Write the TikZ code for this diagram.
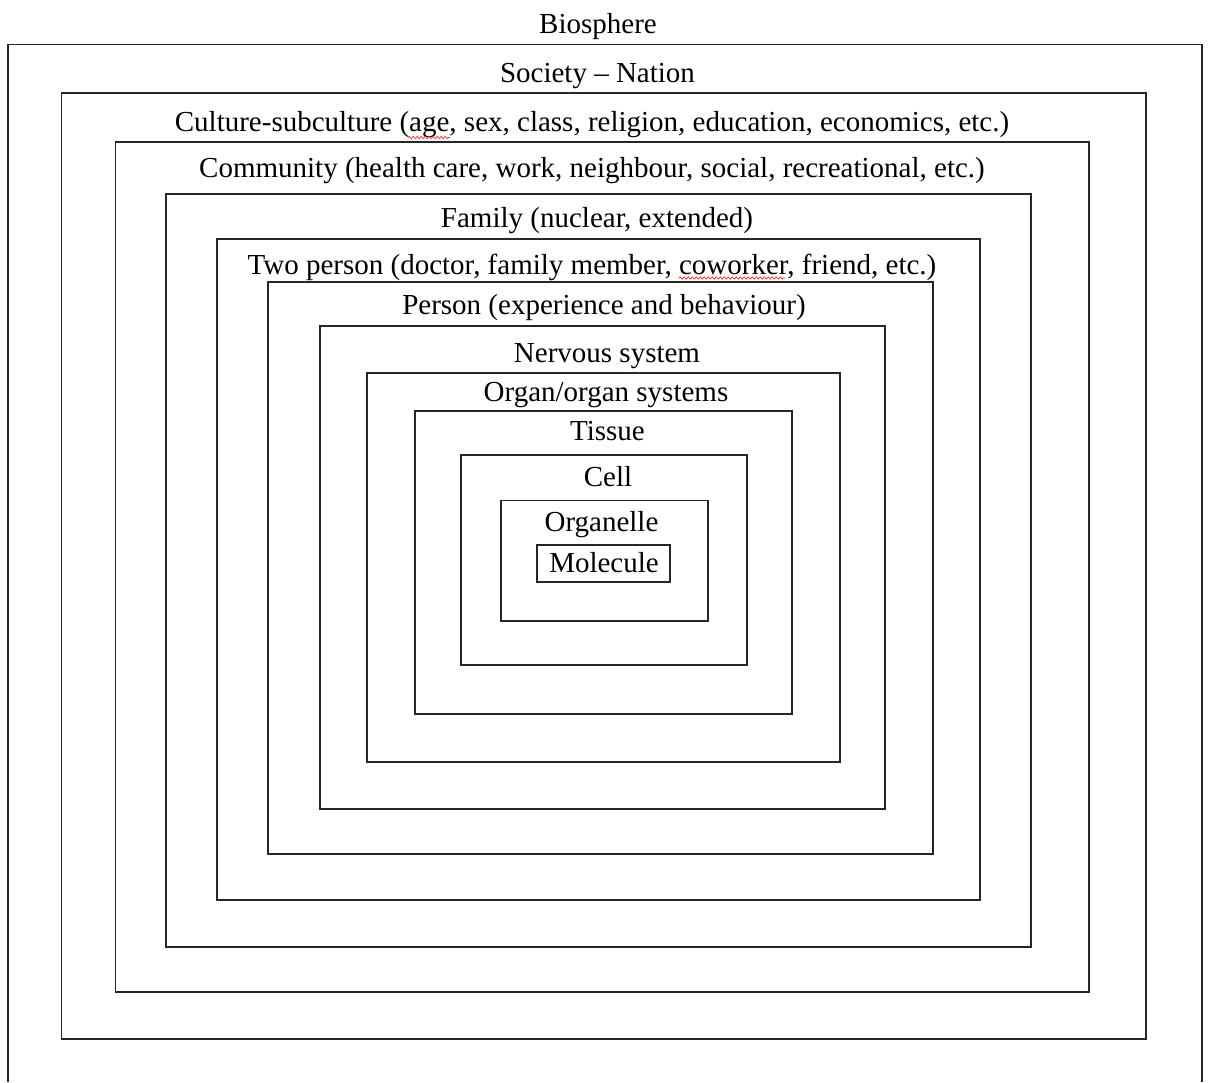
\documentclass[tikz,border=0pt]{standalone}
\usepackage{fontspec}
\setmainfont{Liberation Serif}
\usetikzlibrary{decorations.pathmorphing}
\begin{document}
\begin{tikzpicture}[x=1pt,y=-1pt,
  boxline/.style={draw=black!85,line width=1.5pt},
  lbl/.style={anchor=base,inner sep=0pt,font=\fontsize{29}{31}\selectfont},
  spell/.style={draw=red!85,line width=0.7pt,decorate,decoration={snake,amplitude=1.1pt,segment length=4pt}}]
\useasboundingbox (0,0) rectangle (1209,1082);
\fill[white] (0,0) rectangle (1209,1082);
% outermost box, open at the bottom
\draw[boxline] (8,1082) -- (8,44.5) -- (1202,44.5) -- (1202,1082);
\draw[boxline] (61.5,93) rectangle (1146,1039);
\draw[boxline] (115.5,142) rectangle (1089,992);
\draw[boxline] (166,194) rectangle (1031,947);
\draw[boxline] (217,239) rectangle (980,900);
\draw[boxline] (268,282) rectangle (933,854);
\draw[boxline] (320,326) rectangle (885,809);
\draw[boxline] (367,373) rectangle (840,762);
\draw[boxline] (415,411) rectangle (792,714);
\draw[boxline] (461,455) rectangle (747,665);
\draw[boxline] (501,500.5) rectangle (708,621);
\draw[boxline] (537,545) rectangle (670,582);
% labels
\node[lbl] (bio) at (598,33) {Biosphere};
\node[lbl] (soc) at (597.5,82) {Society -- Nation};
\node[lbl] (cul) at (592,131) {Culture-subculture (age, sex, class, religion, education, economics, etc.)};
\node[lbl] (com) at (592,177) {Community (health care, work, neighbour, social, recreational, etc.)};
\node[lbl] (fam) at (597,227) {Family (nuclear, extended)};
\node[lbl] (two) at (592,274) {Two person (doctor, family member, coworker, friend, etc.)};
\node[lbl] (per) at (604,314) {Person (experience and behaviour)};
\node[lbl] (ner) at (607,362) {Nervous system};
\node[lbl] (org) at (606,401) {Organ/organ systems};
\node[lbl] (tis) at (607.5,440.5) {Tissue};
\node[lbl] (cel) at (608,486.5) {Cell};
\node[lbl] (ogl) at (601.5,531.5) {Organelle};
\node[lbl] (mol) at (604,572) {Molecule};
% spell-check underlines
\coordinate (s1a) at (408,137.5); \coordinate (s1b) at (450,137.5);
\coordinate (s2a) at (679,278); \coordinate (s2b) at (785,278);
\draw[spell] (s1a) -- (s1b);
\draw[spell] (s2a) -- (s2b);
\end{tikzpicture}
\end{document}
